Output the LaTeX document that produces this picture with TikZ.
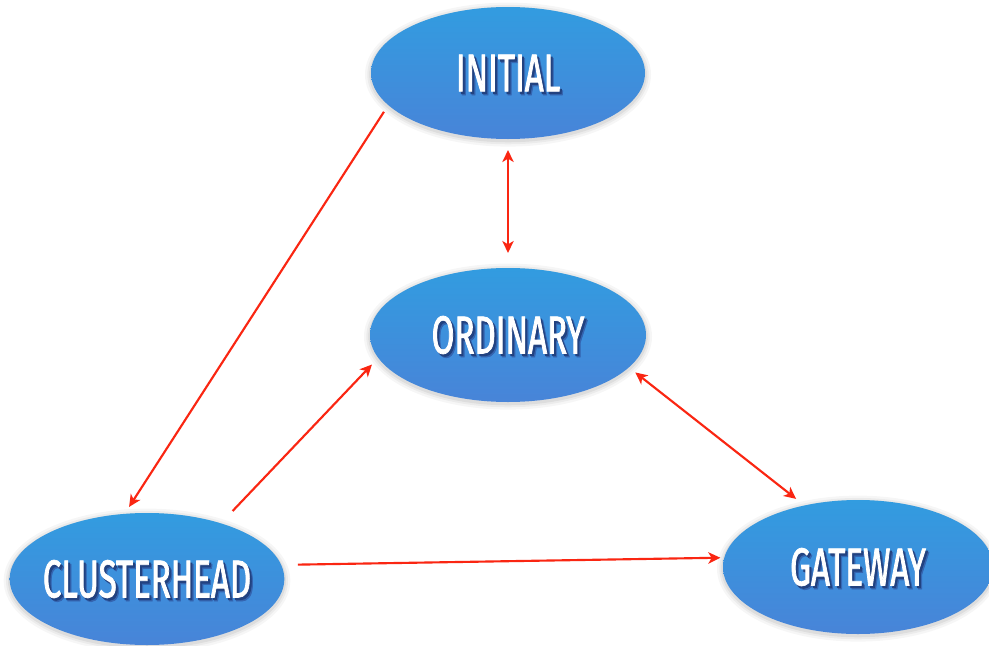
\documentclass[tikz,border=0pt]{standalone}
\usepackage{fontspec}
\setmainfont{Fira Sans}[FakeStretch=0.62,FakeBold=1.4]
\usetikzlibrary{arrows.meta,shapes.geometric}

\definecolor{ellTop}{RGB}{50,156,224}
\definecolor{ellBot}{RGB}{72,132,216}
\definecolor{linkred}{RGB}{250,38,18}
\definecolor{txtshA}{RGB}{34,66,128}
\definecolor{txtshB}{RGB}{52,100,176}

% white caption with a soft dark drop shadow; zero width so the
% ellipse keeps its own size
\newcommand\shtext[1]{\makebox[0pt]{%
  \rlap{\smash{\kern2.4pt\raisebox{-2.8pt}{\color{txtshB}#1}}}%
  \rlap{\smash{\kern1.5pt\raisebox{-1.8pt}{\color{txtshA}#1}}}%
  {\color{white}#1}}}

\begin{document}
\begin{tikzpicture}[x=0.75pt,y=-0.75pt,
  state/.style={ellipse, minimum width=205.5pt, minimum height=99pt,
    inner sep=0pt, outer sep=0pt, draw=none,
    top color=ellTop, bottom color=ellBot,
    preaction={draw=black, draw opacity=0.035, line width=9pt, transform canvas={yshift=-1.2pt}},
    preaction={draw=black, draw opacity=0.045, line width=5.5pt, transform canvas={yshift=-1.2pt}},
    preaction={draw=black, draw opacity=0.06, line width=2.5pt, transform canvas={yshift=-1.2pt}},
    font=\fontsize{40}{42}\selectfont},
  link/.style={draw=linkred, line width=1.6pt, -{Stealth[length=9pt,width=8.5pt,inset=2.5pt]}},
  biglink/.style={draw=linkred, line width=1.6pt, {Stealth[length=9pt,width=8.5pt,inset=2.5pt]}-{Stealth[length=9pt,width=8.5pt,inset=2.5pt]}}]

\useasboundingbox (0,0) rectangle (989,646);
\fill[white] (0,0) rectangle (989,646);

% states
\node[state] (init) at (508,73) {\shtext{INITIAL}};
\node[state, minimum width=207pt, minimum height=100.5pt] (ord) at (508,335) {\shtext{ORDINARY}};
\node[state, minimum width=206pt] (clust) at (147,579) {\shtext{CLUSTERHEAD}};
\node[state, minimum width=202.5pt, minimum height=100.5pt] (gate) at (858,567) {\shtext{GATEWAY}};

% transitions
\draw[link, shorten <=6pt, shorten >=6.2pt] (init.195.3) -- (clust.109.9);
\draw[biglink, shorten <=8.25pt, shorten >=11.25pt] (init.south) -- (ord.north);
\draw[link, shorten <=12.75pt, shorten >=6.9pt] (clust.37.3) -- (ord.190.7);
\draw[biglink, shorten <=6.15pt, shorten >=8pt] (ord.345.9) -- (gate.131.7);
\draw[link, shorten <=12.5pt, shorten >=3pt] (clust.6.8) -- (gate.176.6);
\end{tikzpicture}
\end{document}
